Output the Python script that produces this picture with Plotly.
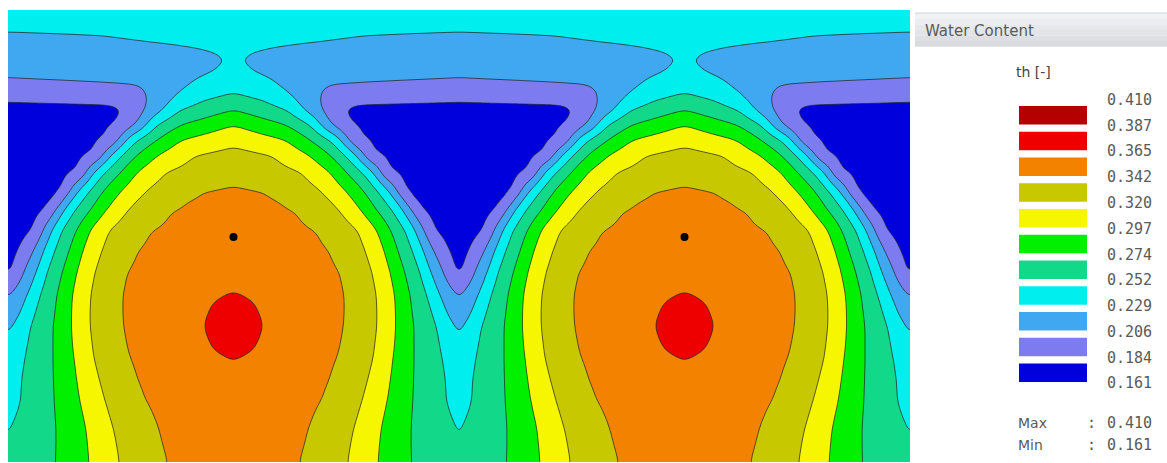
import numpy as np
import plotly.graph_objects as go

# Contour levels of volumetric water content th [-], driest to wettest
LEVELS = [0.161, 0.184, 0.206, 0.229, 0.252, 0.274, 0.297, 0.320, 0.342, 0.365, 0.387, 0.410]
LEVEL_LABELS = ["0.161", "0.184", "0.206", "0.229", "0.252", "0.274",
                "0.297", "0.320", "0.342", "0.365", "0.387", "0.410"]
BAND_COLORS = ["#0000DC", "#7C7CF0", "#40A8F0", "#00EEEE", "#12D98A", "#00F000",
               "#F6F600", "#C8C800", "#F28200", "#EE0000", "#B40000"]

# Flow domain (cm) and the two drip emitters
DOMAIN_WIDTH = 90.2
DOMAIN_DEPTH = 45.3
HALF_SPACING = 22.55
EMITTER_X = [22.55, 67.65]
EMITTER_DEPTH = [22.7, 22.7]

# Horizontal transects: depth (cm), distance from the emitter axis (cm), th [-]
TRANSECT_DEPTH = [0.0, 1.2, 2.3, 3.5, 4.2, 5.0, 6.2, 7.0, 7.7, 8.3, 9.0, 10.0,
                  11.5, 13.0, 14.5, 16.2, 18.0, 19.0, 20.0, 22.0, 24.0, 26.2, 28.3,
                  29.0, 30.0, 31.6, 33.3, 34.2, 34.9, 37.0, 39.0, 41.0, 42.0, 43.5, 45.3]
TRANSECT_DIST = [
    [0, 22.55],
    [0, 22.55],
    [0, 13.0, 22.55],
    [0, 6.4, 22.55],
    [0, 1.8, 4.5, 22.55],
    [0, 0.3, 3.0, 22.55],
    [0, 1.8, 4.5, 22.55],
    [0, 3.9, 9.7, 22.55],
    [0, 4.8, 8.9, 22.55],
    [0, 5.6, 8.6, 22.55],
    [0, 3.0, 6.2, 8.6, 11.5, 22.55],
    [0, 5.3, 7.0, 8.8, 10.6, 13.0, 22.55],
    [0, 5.3, 7.7, 8.7, 9.7, 11.5, 22.55],
    [0, 5.3, 7.7, 9.7, 10.8, 11.4, 12.4, 22.55],
    [0, 3.9, 7.6, 9.7, 11.2, 12.3, 13.0, 13.7, 22.55],
    [0, 6.8, 9.7, 11.3, 12.9, 14.0, 14.7, 15.3, 22.55],
    [0, 3.3, 8.7, 11.2, 13.0, 14.35, 15.5, 16.3, 16.8, 22.55],
    [0, 4.8, 9.7, 12.0, 13.7, 15.1, 16.25, 17.05, 17.65, 22.55],
    [0, 6.4, 10.6, 12.75, 14.3, 15.9, 17.0, 17.8, 18.6, 22.55],
    [0, 8.5, 12.5, 14.4, 15.7, 17.2, 18.2, 19.0, 19.9, 22.55],
    [0, 9.8, 13.2, 15.1, 16.4, 17.9, 19.0, 19.9, 21.4, 22.55],
    [0, 10.9, 13.9, 15.7, 17.1, 18.7, 19.7, 21.0, 22.0, 22.55],
    [0, 11.3, 14.3, 16.1, 17.6, 19.3, 20.5, 22.2, 22.55],
    [0, 1.72, 11.3, 14.35, 16.15, 17.7, 19.5, 20.8, 22.55],
    [0, 2.2, 11.3, 14.4, 16.2, 17.8, 19.8, 21.2, 22.55],
    [0, 2.75, 11.2, 14.4, 16.2, 18.0, 20.3, 22.1, 22.55],
    [0, 2.15, 10.9, 14.2, 16.1, 18.0, 20.6, 22.55],
    [0, 1.72, 10.7, 14.1, 16.0, 18.0, 20.75, 22.55],
    [0, 10.5, 14.0, 15.9, 18.0, 20.9, 22.55],
    [0, 9.8, 13.45, 15.65, 17.95, 21.2, 22.55],
    [0, 9.05, 12.9, 15.35, 17.9, 21.2, 22.55],
    [0, 8.05, 12.3, 14.9, 17.75, 21.8, 22.55],
    [0, 7.7, 12.0, 14.7, 17.7, 22.1, 22.55],
    [0, 7.35, 11.7, 14.55, 17.7, 22.55],
    [0, 6.9, 11.4, 14.4, 17.7, 22.55],
]
TRANSECT_THETA = [
    [0.240, 0.238],
    [0.238, 0.234],
    [0.236, 0.2295, 0.2285],
    [0.234, 0.229, 0.222],
    [0.233, 0.229, 0.2255, 0.219],
    [0.2296, 0.229, 0.2250, 0.216],
    [0.235, 0.229, 0.2245, 0.211],
    [0.238, 0.229, 0.206, 0.2045],
    [0.244, 0.229, 0.206, 0.198],
    [0.252, 0.229, 0.206, 0.193],
    [0.261, 0.252, 0.229, 0.206, 0.1862, 0.1850],
    [0.274, 0.252, 0.229, 0.206, 0.184, 0.179, 0.177],
    [0.297, 0.274, 0.252, 0.229, 0.206, 0.184, 0.175],
    [0.314, 0.297, 0.274, 0.252, 0.229, 0.206, 0.184, 0.172],
    [0.3258, 0.320, 0.297, 0.274, 0.252, 0.229, 0.206, 0.184, 0.170],
    [0.3356, 0.320, 0.297, 0.274, 0.252, 0.229, 0.206, 0.184, 0.169],
    [0.344, 0.342, 0.320, 0.297, 0.274, 0.252, 0.229, 0.206, 0.184, 0.168],
    [0.3456, 0.342, 0.320, 0.297, 0.274, 0.252, 0.229, 0.206, 0.184, 0.1685],
    [0.3476, 0.342, 0.320, 0.297, 0.274, 0.252, 0.229, 0.206, 0.184, 0.169],
    [0.3518, 0.342, 0.320, 0.297, 0.274, 0.252, 0.229, 0.206, 0.184, 0.171],
    [0.356, 0.342, 0.320, 0.297, 0.274, 0.252, 0.229, 0.206, 0.184, 0.176],
    [0.3606, 0.342, 0.320, 0.297, 0.274, 0.252, 0.229, 0.206, 0.184, 0.179],
    [0.3645, 0.342, 0.320, 0.297, 0.274, 0.252, 0.229, 0.206, 0.1985],
    [0.370, 0.365, 0.342, 0.320, 0.297, 0.274, 0.252, 0.229, 0.205],
    [0.374, 0.365, 0.342, 0.320, 0.297, 0.274, 0.252, 0.229, 0.210],
    [0.380, 0.365, 0.342, 0.320, 0.297, 0.274, 0.252, 0.229, 0.222],
    [0.374, 0.365, 0.342, 0.320, 0.297, 0.274, 0.252, 0.2295],
    [0.370, 0.365, 0.342, 0.320, 0.297, 0.274, 0.252, 0.232],
    [0.3645, 0.342, 0.320, 0.297, 0.274, 0.252, 0.235],
    [0.362, 0.342, 0.320, 0.297, 0.274, 0.252, 0.2395],
    [0.359, 0.342, 0.320, 0.297, 0.274, 0.252, 0.2435],
    [0.356, 0.342, 0.320, 0.297, 0.274, 0.252, 0.2485],
    [0.355, 0.342, 0.320, 0.297, 0.274, 0.252, 0.2495],
    [0.353, 0.342, 0.320, 0.297, 0.274, 0.2515],
    [0.350, 0.342, 0.320, 0.297, 0.274, 0.258],
]

# Fine grid (0.1 cm): each column takes the transect value at its distance
# from the nearest emitter axis, transects are joined down each column
CELL = 0.1
x_f = np.linspace(0.0, DOMAIN_WIDTH, int(round(DOMAIN_WIDTH / CELL)) + 1)
y_f = np.linspace(0.0, DOMAIN_DEPTH, int(round(DOMAIN_DEPTH / CELL)) + 1)
u = np.mod(x_f - EMITTER_X[0], 2 * HALF_SPACING)
dist = np.minimum(u, 2 * HALF_SPACING - u)
rows = np.array([np.interp(dist, dd, tt) for dd, tt in zip(TRANSECT_DIST, TRANSECT_THETA)])
theta = np.empty((y_f.size, x_f.size))
for j in range(x_f.size):
    theta[:, j] = np.interp(y_f, TRANSECT_DEPTH, rows[:, j])


def gauss_smooth(a, sigma_cells, axis):
    r = int(3 * sigma_cells)
    k = np.exp(-0.5 * (np.arange(-r, r + 1) / sigma_cells) ** 2)
    k /= k.sum()
    pad = [(0, 0), (0, 0)]
    pad[axis] = (r, r)
    ap = np.pad(a, pad, mode="reflect")
    return np.apply_along_axis(lambda v: np.convolve(v, k, mode="valid"), axis, ap)


theta = gauss_smooth(gauss_smooth(theta, 5, 0), 5, 1)
x_c, y_c, theta_c = x_f[::2], y_f[::2], theta[::2, ::2]

# Stepped colour scale: one flat colour per band between neighbouring levels
n_lev = len(LEVELS)
step = (LEVELS[-1] - LEVELS[0]) / (n_lev - 1)
colorscale = [[0.0, BAND_COLORS[0]]]
for k, col in enumerate(BAND_COLORS):
    colorscale.append([(k + 1) / n_lev, col])
colorscale.append([1.0, BAND_COLORS[-1]])

fig = go.Figure()
fig.add_trace(go.Contour(
    x=x_c, y=y_c, z=theta_c,
    contours=dict(start=LEVELS[0], end=LEVELS[-1], size=step,
                  coloring="fill", showlines=True),
    line=dict(color="rgba(35,35,35,0.8)", width=0.9, smoothing=1.0),
    colorscale=colorscale, showscale=False, hoverinfo="skip",
))
fig.add_trace(go.Scatter(
    x=EMITTER_X, y=EMITTER_DEPTH, mode="markers",
    marker=dict(color="black", size=8), hoverinfo="skip", showlegend=False,
))

# Layout in pixels: plot area spans x 8..910, y 10..463
W, H = 1167, 463
L, R, T, B = 8, W - 910, 10, 0
PW, PH = W - L - R, H - T - B


def px(xp):
    return (xp - L) / PW


def py(yp):
    return 1 - (yp - T) / PH


shapes = []
annotations = []

# Header bar of the legend panel with a soft vertical gradient
grad = ["#F1F2F4", "#ECEDF0", "#E7E8EB", "#E2E4E7", "#DDDFE3", "#D9DBDF"]
y0 = 13
for g in grad:
    shapes.append(dict(type="rect", xref="paper", yref="paper",
                       x0=px(915), x1=px(W + 5), y0=py(y0), y1=py(y0 + 5.7),
                       line=dict(width=0), fillcolor=g, layer="above"))
    y0 += 5.6
shapes.append(dict(type="line", xref="paper", yref="paper",
                   x0=px(915), x1=px(W + 5), y0=py(13), y1=py(13),
                   line=dict(color="#D0D2D6", width=1), layer="above"))

font_ui = "DejaVu Sans"
font_num = "DejaVu Sans Mono"
txt_col = "#5A5A5A"

annotations.append(dict(xref="paper", yref="paper", x=px(923), y=py(31),
                        xanchor="left", yanchor="middle", showarrow=False,
                        text="Water Content", font=dict(family=font_ui, size=15, color=txt_col)))
annotations.append(dict(xref="paper", yref="paper", x=px(1033), y=py(72),
                        xanchor="center", yanchor="middle", showarrow=False,
                        text="th [-]", font=dict(family=font_ui, size=14, color="#444444")))

# Colour swatches (wettest at top) and level labels at the band limits
pitch = 25.75
n_band = len(BAND_COLORS)
for k in range(n_band):
    col = BAND_COLORS[n_band - 1 - k]
    top = 106 + pitch * k
    shapes.append(dict(type="rect", xref="paper", yref="paper",
                       x0=px(1019), x1=px(1087), y0=py(top), y1=py(top + 18.5),
                       line=dict(width=0), fillcolor=col, layer="above"))
for k in range(n_lev):
    lab = LEVEL_LABELS[n_lev - 1 - k]
    annotations.append(dict(xref="paper", yref="paper", x=px(1105), y=py(100 + pitch * k),
                            xanchor="left", yanchor="middle", showarrow=False,
                            text=lab, font=dict(family=font_num, size=15, color=txt_col)))

for name, val, yy in [("Max", LEVEL_LABELS[-1], 423), ("Min", LEVEL_LABELS[0], 445)]:
    annotations.append(dict(xref="paper", yref="paper", x=px(1016), y=py(yy),
                            xanchor="left", yanchor="middle", showarrow=False,
                            text=name, font=dict(family=font_ui, size=14, color=txt_col)))
    annotations.append(dict(xref="paper", yref="paper", x=px(1085), y=py(yy),
                            xanchor="left", yanchor="middle", showarrow=False,
                            text=":", font=dict(family=font_num, size=15, color=txt_col)))
    annotations.append(dict(xref="paper", yref="paper", x=px(1105), y=py(yy),
                            xanchor="left", yanchor="middle", showarrow=False,
                            text=val, font=dict(family=font_num, size=15, color=txt_col)))

fig.update_layout(
    width=W, height=H,
    margin=dict(l=L, r=R, t=T, b=B),
    paper_bgcolor="white", plot_bgcolor="white",
    showlegend=False,
    xaxis=dict(range=[0, DOMAIN_WIDTH], visible=False, showgrid=False, zeroline=False),
    yaxis=dict(range=[DOMAIN_DEPTH, 0], visible=False, showgrid=False, zeroline=False),
    shapes=shapes, annotations=annotations,
)

fig.write_html("out.html")
